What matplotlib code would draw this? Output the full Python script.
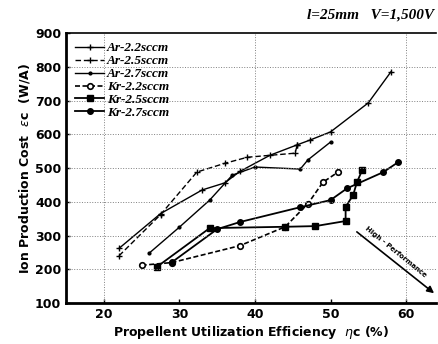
import matplotlib.pyplot as plt

# values
ar22_x = [22, 27.5, 33, 36, 38, 42, 45.5, 47.3, 50, 55, 58]
ar22_y = [262, 365, 435, 456, 490, 538, 568, 583, 607, 693, 785]
ar25_x = [22, 27.5, 32.3, 36, 39, 45.3, 45.6]
ar25_y = [240, 362, 488, 514, 532, 544, 568]
ar27_x = [26, 30, 34, 37, 40, 46, 47, 50]
ar27_y = [248, 325, 405, 479, 503, 497, 524, 577]
kr22_x = [25, 29, 38, 44, 47, 49, 51]
kr22_y = [212, 220, 270, 326, 394, 458, 488]
kr25_x = [27, 34, 44, 48, 52, 52, 53, 53.5, 54.2]
kr25_y = [207, 322, 326, 328, 343, 385, 420, 458, 494]
kr27_x = [29, 35, 38, 46, 50, 52.2, 57, 59]
kr27_y = [221, 319, 340, 384, 405, 440, 488, 518]

xticks = [20, 30, 40, 50, 60]
yticks = [100, 200, 300, 400, 500, 600, 700, 800, 900]

fig = plt.figure(figsize=(4.38, 3.44), dpi=100)
ax = fig.add_axes([0.151, 0.119, 0.845, 0.785])

ax.plot(ar22_x, ar22_y, color='black', lw=1.0, marker='+', ms=4, label='Ar-2.2sccm')
ax.plot(ar25_x, ar25_y, color='black', lw=1.0, ls=(0, (4, 2)), marker='+', ms=4, label='Ar-2.5sccm')
ax.plot(ar27_x, ar27_y, color='black', lw=1.0, marker='.', ms=4, label='Ar-2.7sccm')
ax.plot(kr22_x, kr22_y, color='black', lw=1.2, ls=(0, (3, 1.5)), marker='o', ms=4,
        mfc='white', mew=1.2, label='Kr-2.2sccm')
ax.plot(kr25_x, kr25_y, color='black', lw=1.3, marker='s', ms=4, label='Kr-2.5sccm')
ax.plot(kr27_x, kr27_y, color='black', lw=1.3, marker='o', ms=4, label='Kr-2.7sccm')

ax.set_xlim(15, 64)
ax.set_ylim(100, 900)
ax.set_xticks(xticks)
ax.set_yticks(yticks)
for v in [20, 40, 60]:
    ax.axvline(v, color='gray', lw=0.7, ls=':')
for v in yticks[1:-1]:
    ax.axhline(v, color='gray', lw=0.7, ls=':')

for lab in ax.get_xticklabels() + ax.get_yticklabels():
    lab.set_fontweight('bold')
    lab.set_fontsize(9)
ax.tick_params(direction='in', length=3, width=1)
ax.spines['left'].set_linewidth(2)
ax.spines['bottom'].set_linewidth(2)
ax.spines['top'].set_linewidth(1.2)
ax.spines['right'].set_visible(False)

ax.set_xlabel(r'Propellent Utilization Efficiency  $\eta$c (%)', fontsize=9, fontweight='bold', labelpad=2)
ax.set_ylabel(r'Ion Production Cost  $\varepsilon$c  (W/A)', fontsize=9, fontweight='bold', labelpad=2)

fig.text(0.99, 0.955, 'l=25mm   V=1,500V', ha='right', va='center',
         family='Liberation Serif', style='italic', fontweight='bold', fontsize=11)

leg = ax.legend(loc='upper left', frameon=False, handlelength=2.2, handletextpad=0.2,
                labelspacing=0.05, borderaxespad=0.3,
                prop={'family': 'Liberation Serif', 'style': 'italic', 'weight': 'bold', 'size': 9.5})

ax.annotate('', xy=(64, 124), xytext=(53.2, 316),
            arrowprops=dict(arrowstyle='-|>', color='black', lw=1.2, mutation_scale=10))
ax.text(58.6, 252, 'High - Performance', rotation=-39, ha='center', va='center',
        fontsize=5, fontweight='bold', rotation_mode='anchor')

fig.savefig('out.png', dpi=100)
